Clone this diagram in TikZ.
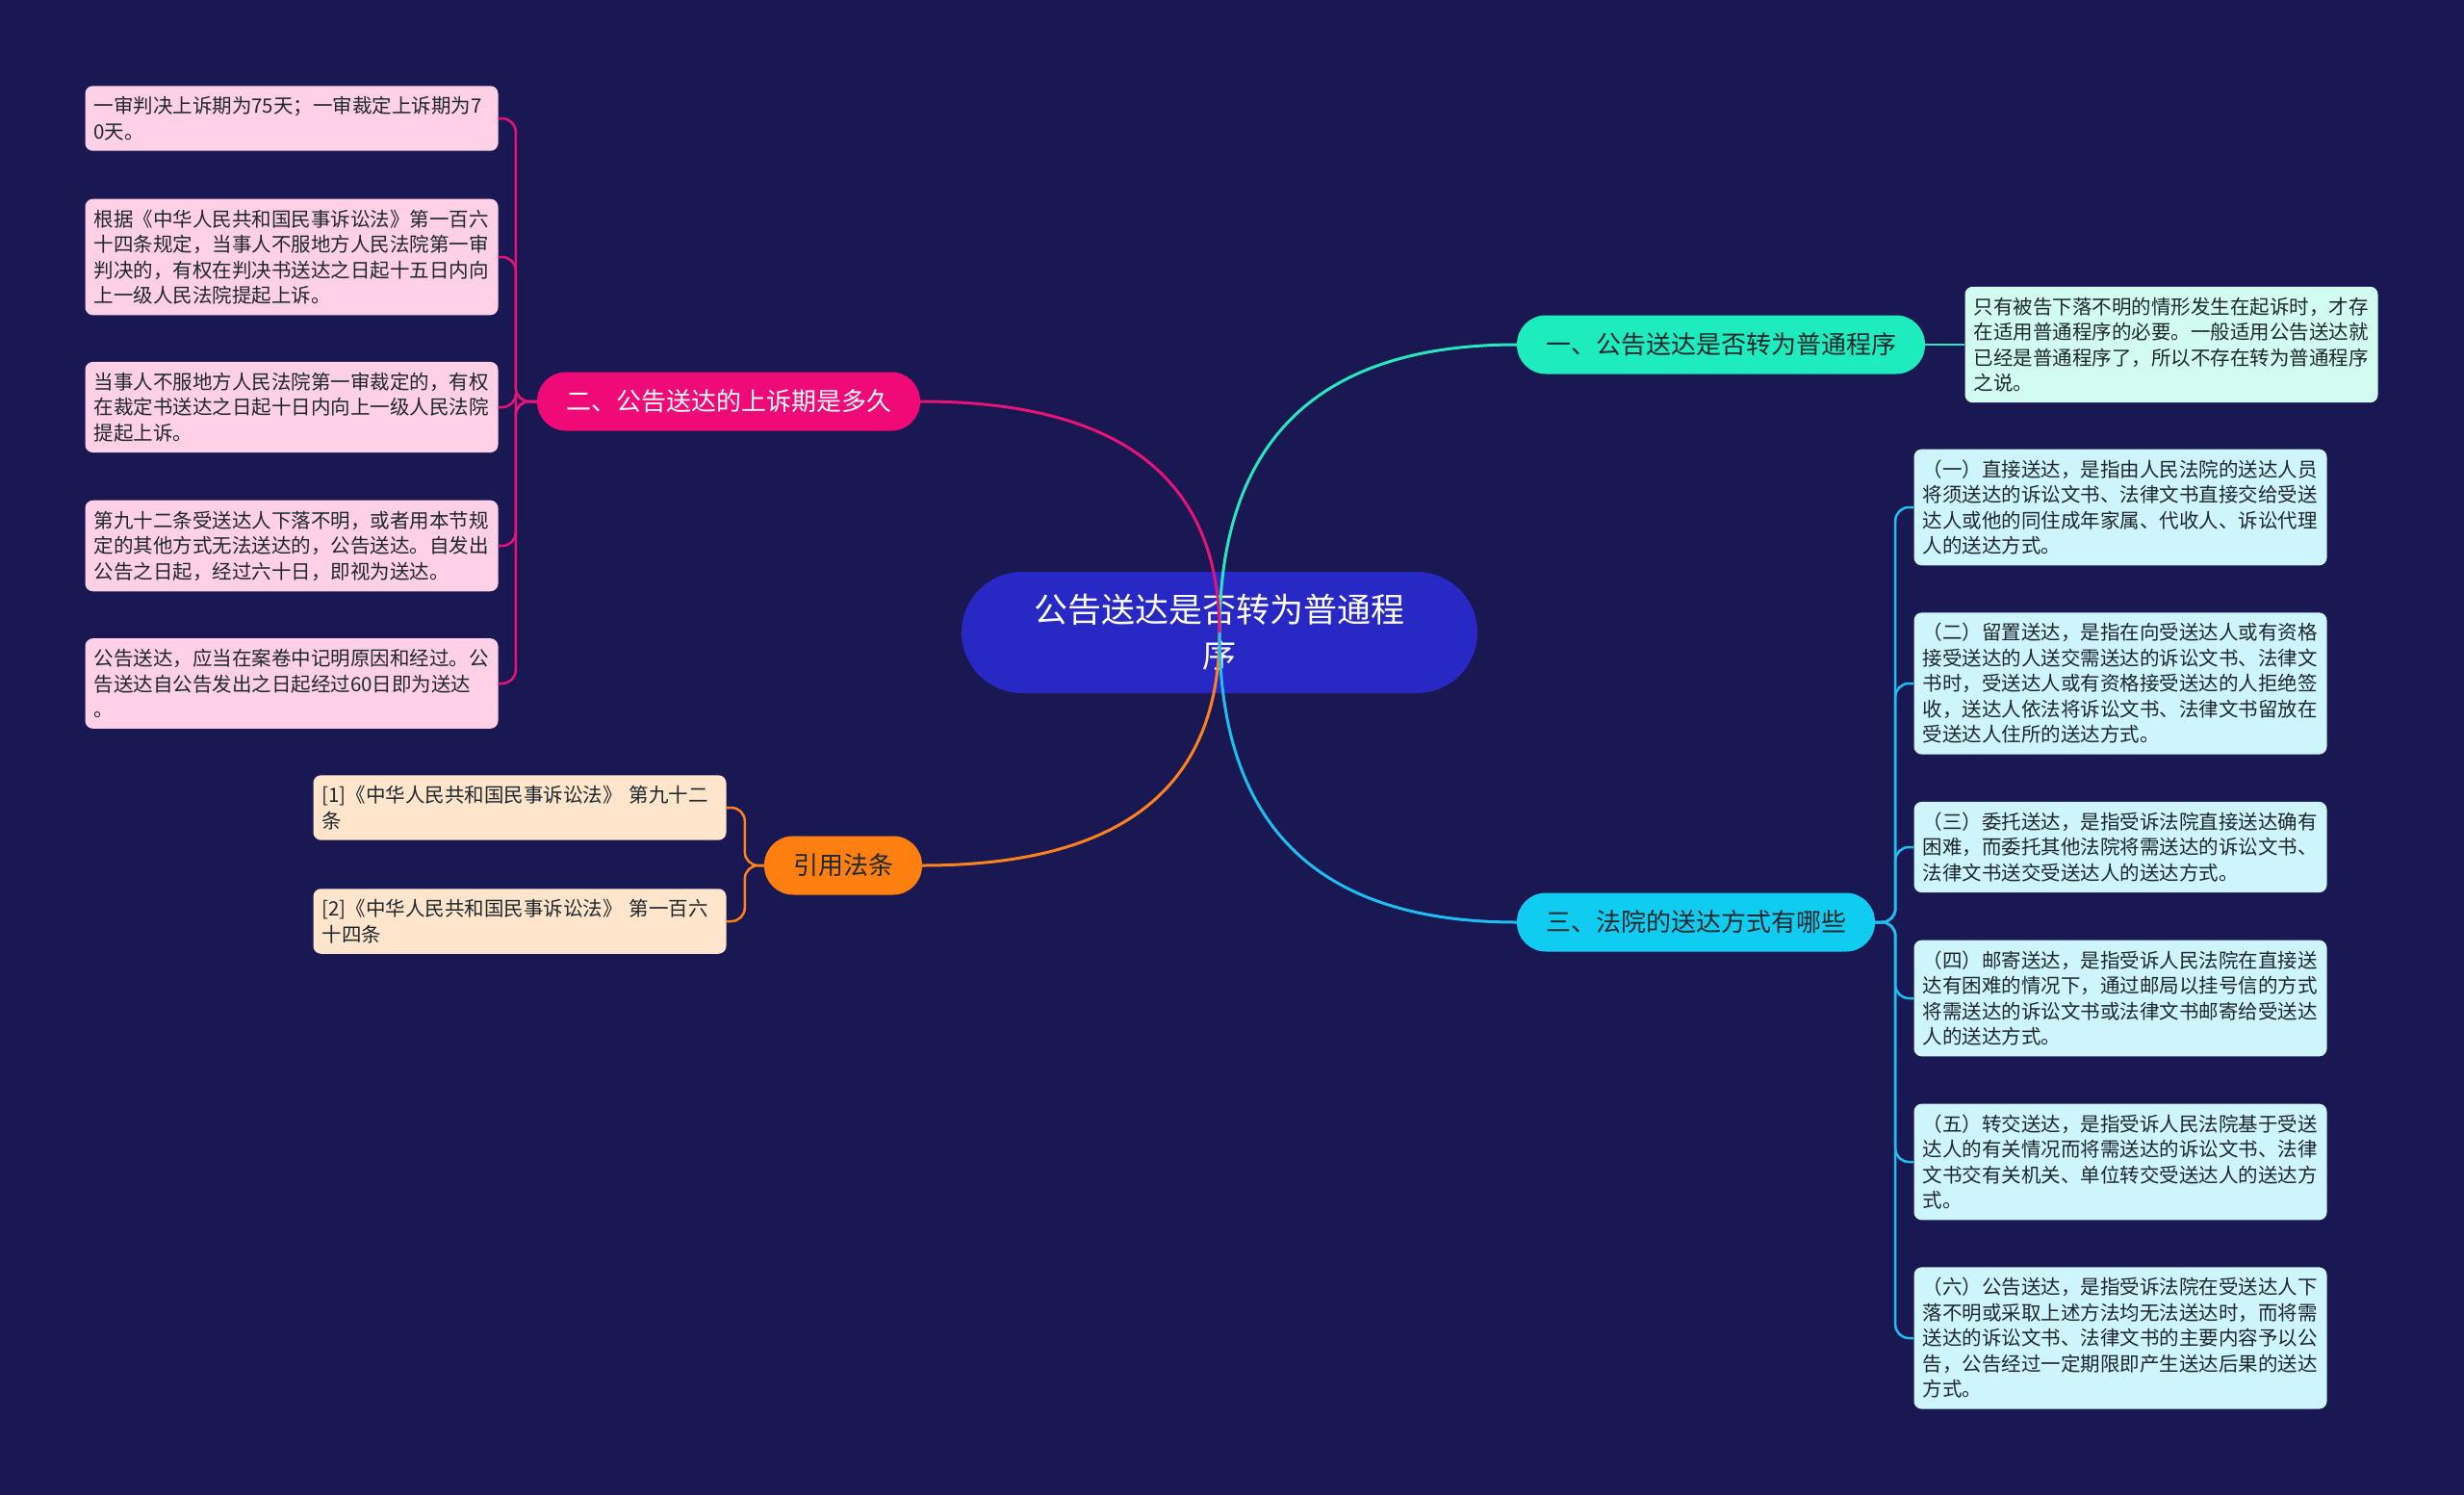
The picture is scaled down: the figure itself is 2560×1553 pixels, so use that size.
\documentclass[tikz,border=0pt]{standalone}
\usepackage{fontspec}
\usepackage{xcolor}
\usepackage{tikz}
\newfontfamily\cjk{Noto Sans CJK SC}
\definecolor{bgnavy}{RGB}{26,24,82}
\definecolor{rootblue}{RGB}{40,40,196}
\definecolor{tealfill}{RGB}{30,236,190}
\definecolor{tealbox}{RGB}{210,252,240}
\definecolor{tealline}{RGB}{40,230,190}
\definecolor{pinkfill}{RGB}{240,10,120}
\definecolor{pinkbox}{RGB}{255,208,230}
\definecolor{pinkline}{RGB}{230,20,120}
\definecolor{orangefill}{RGB}{255,128,16}
\definecolor{orangebox}{RGB}{255,229,204}
\definecolor{orangeline}{RGB}{255,130,30}
\definecolor{bluefill}{RGB}{16,204,240}
\definecolor{bluebox}{RGB}{206,244,252}
\definecolor{blueline}{RGB}{30,190,240}
\definecolor{darktext}{RGB}{30,40,45}

\begin{document}
\begin{tikzpicture}[x=1pt,y=-1pt,
    rootnode/.style={rectangle,rounded corners=63pt,fill=rootblue,text=white,minimum width=536pt,minimum height=126pt,align=center,font=\cjk\fontsize{35}{47}\selectfont},
    branch/.style={rectangle,rounded corners=30pt,minimum height=61pt,inner xsep=30pt,font=\cjk\fontsize{26}{30}\selectfont,text=darktext},
    leaf/.style={rectangle,rounded corners=8pt,text width=411pt,align=left,inner xsep=9pt,inner ysep=11pt,font=\cjk\fontsize{20.5}{26.5}\selectfont,text=darktext},
    trunk/.style={line width=3pt},
    twig/.style={line width=2.5pt,rounded corners=14pt}]
    % page
    \fill[bgnavy] (0,0) rectangle (2560,1553);
    % root and the four branches
    \node[rootnode] (root) at (1267,657) {公告送达是否转为普通程\\序};
    \node[branch,fill=tealfill] (b1) at (1788,358) {一、公告送达是否转为普通程序};
    \node[branch,fill=pinkfill,text=white] (b2) at (757,417) {二、公告送达的上诉期是多久};
    \node[branch,fill=orangefill] (b3) at (876,899) {引用法条};
    \node[branch,fill=bluefill] (b4) at (1762,958) {三、法院的送达方式有哪些};
    % leaves of branch one
    \node[leaf,fill=tealbox] (t1) at (2256,358) {只有被告下落不明的情形发生在起诉时，才存\\在适用普通程序的必要。一般适用公告送达就\\已经是普通程序了，所以不存在转为普通程序\\之说。};
    % leaves of branch two
    \node[leaf,fill=pinkbox] (p1) at (303,123) {一审判决上诉期为75天；一审裁定上诉期为7\\0天。};
    \node[leaf,fill=pinkbox] (p2) at (303,267) {根据《中华人民共和国民事诉讼法》第一百六\\十四条规定，当事人不服地方人民法院第一审\\判决的，有权在判决书送达之日起十五日内向\\上一级人民法院提起上诉。};
    \node[leaf,fill=pinkbox] (p3) at (303,423) {当事人不服地方人民法院第一审裁定的，有权\\在裁定书送达之日起十日内向上一级人民法院\\提起上诉。};
    \node[leaf,fill=pinkbox] (p4) at (303,567) {第九十二条受送达人下落不明，或者用本节规\\定的其他方式无法送达的，公告送达。自发出\\公告之日起，经过六十日，即视为送达。};
    \node[leaf,fill=pinkbox] (p5) at (303,710) {公告送达，应当在案卷中记明原因和经过。公\\告送达自公告发出之日起经过60日即为送达\\。};
    % cited articles
    \node[leaf,fill=orangebox] (c1) at (540,839) {[1]《中华人民共和国民事诉讼法》 第九十二\\条};
    \node[leaf,fill=orangebox] (c2) at (540,957) {[2]《中华人民共和国民事诉讼法》 第一百六\\十四条};
    % leaves of branch three
    \node[leaf,fill=bluebox] (s1) at (2203,527) {（一）直接送达，是指由人民法院的送达人员\\将须送达的诉讼文书、法律文书直接交给受送\\达人或他的同住成年家属、代收人、诉讼代理\\人的送达方式。};
    \node[leaf,fill=bluebox] (s2) at (2203,710) {（二）留置送达，是指在向受送达人或有资格\\接受送达的人送交需送达的诉讼文书、法律文\\书时，受送达人或有资格接受送达的人拒绝签\\收，送达人依法将诉讼文书、法律文书留放在\\受送达人住所的送达方式。};
    \node[leaf,fill=bluebox] (s3) at (2203,880) {（三）委托送达，是指受诉法院直接送达确有\\困难，而委托其他法院将需送达的诉讼文书、\\法律文书送交受送达人的送达方式。};
    \node[leaf,fill=bluebox] (s4) at (2203,1037) {（四）邮寄送达，是指受诉人民法院在直接送\\达有困难的情况下，通过邮局以挂号信的方式\\将需送达的诉讼文书或法律文书邮寄给受送达\\人的送达方式。};
    \node[leaf,fill=bluebox] (s5) at (2203,1207) {（五）转交送达，是指受诉人民法院基于受送\\达人的有关情况而将需送达的诉讼文书、法律\\文书交有关机关、单位转交受送达人的送达方\\式。};
    \node[leaf,fill=bluebox] (s6) at (2203,1390) {（六）公告送达，是指受诉法院在受送达人下\\落不明或采取上述方法均无法送达时，而将需\\送达的诉讼文书、法律文书的主要内容予以公\\告，公告经过一定期限即产生送达后果的送达\\方式。};
    % curves from the root (drawn over it)
    \draw[trunk,tealline] (root.center) .. controls +(0,-188) and +(-218,0) .. (b1.west);
    \draw[trunk,pinkline] (root.center) .. controls +(0,-151) and +(219,0) .. (b2.east);
    \draw[trunk,orangeline] (root.center) .. controls +(0,152) and +(219,0) .. (b3.east);
    \draw[trunk,blueline] (root.center) .. controls +(0,190) and +(-218,0) .. (b4.west);
    % brackets to the leaves
    \draw[twig,tealline] (b1.east) -- (t1.west);
    \foreach \d in {p1,p2,p3,p4,p5} \draw[twig,pinkline] (b2.west) -- ++(-22,0) |- (\d.east);
    \foreach \d in {c1,c2} \draw[twig,orangeline] (b3.west) -- ++(-20,0) |- (\d.east);
    \foreach \d in {s1,s2,s3,s4,s5,s6} \draw[twig,blueline] (b4.east) -- ++(21,0) |- (\d.west);
\end{tikzpicture}
\end{document}
